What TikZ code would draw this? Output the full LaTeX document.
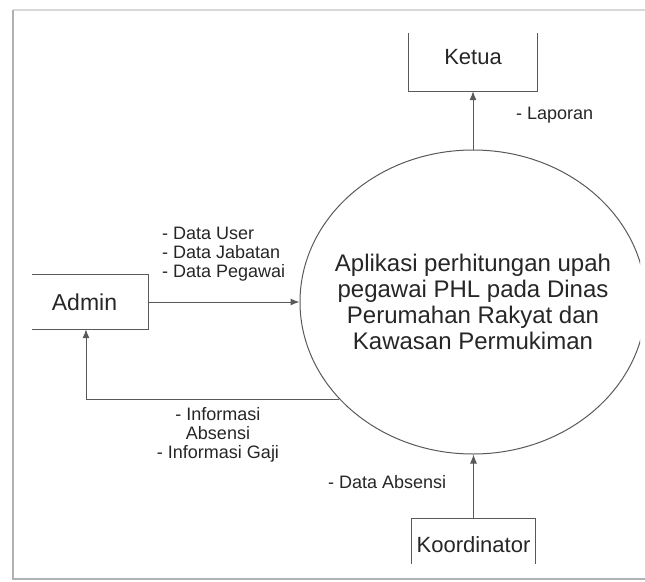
\documentclass[tikz,border=0pt]{standalone}
\usepackage{fontspec}
\setmainfont{Liberation Sans}
\usetikzlibrary{shapes.geometric,arrows.meta}
\begin{document}
\begin{tikzpicture}[x=1pt,y=-1pt,
  ln/.style={draw=black!65, line width=1pt},
  arr/.style={ln, -{Latex[length=9pt,width=7pt]}},
  lbl/.style={font=\fontsize{18}{19}\selectfont, text=black!85, inner sep=0pt},
  ent/.style={inner sep=0pt, text=black!85},
]
\useasboundingbox (0,0) rectangle (645,581);
% frame
\draw[black!15, line width=2pt] (13,10) -- (645,10);
\draw[black!30, line width=2.5pt] (13,10) -- (13,579) -- (645,579);
% process
\begin{scope}
\clip (0,0) rectangle (640,581);
\node[ellipse, ln, minimum width=346pt, minimum height=304pt, inner sep=0pt,
  label={[font=\fontsize{24}{26}\selectfont, text=black!85, align=center]center:Aplikasi perhitungan upah\\pegawai PHL pada Dinas\\Perumahan Rakyat dan\\Kawasan Permukiman}] (proc) at (473,302) {};
\end{scope}
% entities
\node[ent, minimum width=128pt, minimum height=58pt, font=\fontsize{22}{26}\selectfont, text height=10pt, text depth=6pt] (ketua) at (473,62) {Ketua};
\draw[ln] (ketua.north west) -- (ketua.south west) -- (ketua.south east) -- (ketua.north east);
\node[ent, minimum width=116pt, minimum height=54pt, font=\fontsize{23}{26}\selectfont] (admin) at (90,302) {\hspace*{-11pt}Admin};
\draw[ln] (admin.north west) -- (admin.north east) -- (admin.south east) -- (admin.south west);
\node[ent, minimum width=123pt, minimum height=45pt, font=\fontsize{22}{26}\selectfont, text height=22.8pt, text depth=0pt] (koord) at (473.5,541.5) {Koordinator};
\draw[ln] (koord.south west) -- (koord.north west) -- (koord.north east) -- (koord.south east);
% flows
\draw[arr] (admin.east) -- (proc.west);
\draw[arr] (proc.216.6) -| ([xshift=-4pt]admin.south);
\draw[arr] (proc.north) -- (ketua.south);
\draw[arr] (koord.north) -- (koord.north |- proc.south);
% labels
\node[lbl, anchor=west, align=left] (lu) at (162,254) {- Data User\\- Data Jabatan\\- Data Pegawai};
\node[lbl, anchor=west] (ll) at (516,115) {- Laporan};
\node[lbl, align=center] (li) at (218,435) {- Informasi\\Absensi\\- Informasi Gaji};
\node[lbl, anchor=west] (la) at (328,482) {- Data Absensi};
\end{tikzpicture}
\end{document}
